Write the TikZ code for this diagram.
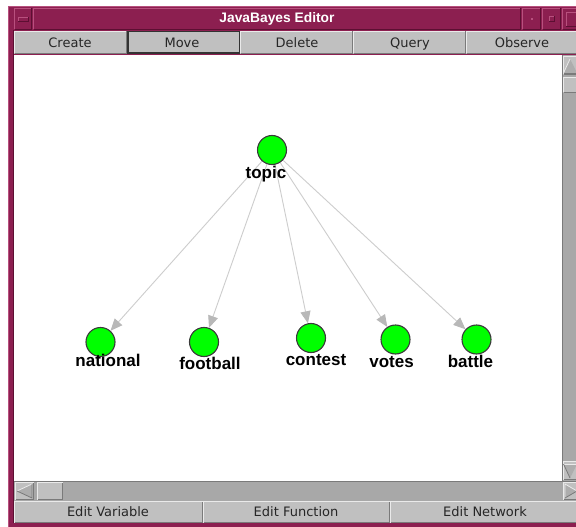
\documentclass[tikz,border=0pt]{standalone}
\usepackage{fontspec}
\setmainfont{Liberation Sans}
\newfontfamily\guifont{DejaVu Sans}
\usetikzlibrary{arrows.meta}
\pgfdeclarelayer{chrome}
\pgfdeclarelayer{edges}
\pgfsetlayers{chrome,edges,main}
\definecolor{framec}{HTML}{8C1F50}
\definecolor{framedark}{HTML}{5C0F32}
\definecolor{framelight}{HTML}{B8507E}
\definecolor{btngray}{HTML}{C0C0C0}
\definecolor{btnlight}{HTML}{EAEAEA}
\definecolor{btndark}{HTML}{7A7A7A}
\definecolor{trough}{HTML}{A8A8A8}
\definecolor{edgegray}{HTML}{CDCDCD}
\definecolor{tipgray}{HTML}{B8B8B8}
\definecolor{nodegreen}{HTML}{00FF00}
\definecolor{nodeedge}{HTML}{3A3A3A}
\newcommand{\bevbtn}[5][btngray]{%
  \fill[#1] (#2,#3) rectangle (#4,#5);
  \draw[btnlight, line width=1pt] (#2+.5,#5-.5) -- (#2+.5,#3+.5) -- (#4-.5,#3+.5);
  \draw[btndark, line width=1pt] (#2+.5,#5-.5) -- (#4-.5,#5-.5) -- (#4-.5,#3+.5);
}
\newcommand{\bevframe}[4]{%
  \fill[framec] (#1,#2) rectangle (#3,#4);
  \draw[framelight, line width=1pt] (#1+.5,#4-.5) -- (#1+.5,#2+.5) -- (#3-.5,#2+.5);
  \draw[framedark, line width=1pt] (#1+.5,#4-.5) -- (#3-.5,#4-.5) -- (#3-.5,#2+.5);
}
\tikzset{
  gnode/.style={circle, fill=nodegreen, draw=nodeedge, line width=1.1pt, minimum size=29pt, inner sep=0pt},
  glabel/.style={font=\fontsize{17}{17}\selectfont\bfseries, inner sep=0pt, anchor=base, text=black},
  edge/.style={draw=edgegray, line width=0.9pt, -{Triangle[length=12pt,width=10pt,color=tipgray,fill=tipgray]}},
  btntext/.style={font=\guifont\fontsize{13}{13}\selectfont, text=black!85, inner sep=0pt, anchor=base},
  titletext/.style={font=\fontsize{13.8}{14}\selectfont\bfseries, text=white, inner sep=0pt},
}
\begin{document}
\begin{tikzpicture}[x=1pt,y=-1pt]
\useasboundingbox (0,0) rectangle (576,527);
\begin{pgfonlayer}{chrome}
\fill[white] (0,0) rectangle (576,527);
% window frame
\fill[framec] (8,6) rectangle (576,527);
\draw[framelight, line width=1pt] (8.5,527) -- (8.5,6.5) -- (576,6.5);
\draw[framedark, line width=1pt] (13.5,30) -- (13.5,523);
% title bar
\bevframe{14}{8}{32}{30}
\fill[framec] (18,17) rectangle (28,21);
\draw[framelight, line width=0.8pt] (18,21) -- (18,17) -- (28,17);
\draw[framedark, line width=0.8pt] (18,21) -- (28,21) -- (28,17);
\bevframe{33}{8}{521}{30}
\bevframe{522}{8}{541}{30}
\fill[framelight] (530.5,18) rectangle (532.5,20);
\bevframe{542}{8}{561}{30}
\draw[framelight, line width=0.8pt] (549,21) -- (549,16) -- (554,16);
\draw[framedark, line width=0.8pt] (549,21) -- (554,21) -- (554,16);
\bevframe{562}{8}{577}{30}
\draw[framelight, line width=0.8pt] (566,26) -- (566,12) -- (577,12);
\draw[framedark, line width=0.8pt] (566,26) -- (577,26);
% top buttons
\fill[btngray] (14,31) rectangle (577,54);
\bevbtn{14}{31}{127}{54}
\bevbtn{127}{31}{240}{54}
\draw[black!80, line width=1.5pt] (127.75,31.75) rectangle (239.25,53.25);
\bevbtn{240}{31}{353}{54}
\bevbtn{353}{31}{466}{54}
\bevbtn{466}{31}{577}{54}
% canvas
\fill[white] (14,55) rectangle (562,481);
% vertical scrollbar
\fill[trough] (562,55) rectangle (576,481);
\draw[btndark, line width=1pt] (562.5,55) -- (562.5,481);
\bevbtn{563}{56}{577}{75}
\fill[btngray!90!black] (570,59) -- (563.5,73) -- (577,73) -- cycle;
\draw[btnlight, line width=0.8pt] (570,59) -- (563.5,73);
\draw[btndark, line width=0.8pt] (563.5,73) -- (577,73);
\bevbtn{563}{77}{577}{93}
\bevbtn{563}{461}{577}{480}
\fill[btngray!90!black] (570,478) -- (563.5,464) -- (577,464) -- cycle;
\draw[btnlight, line width=0.8pt] (563.5,464) -- (577,464);
\draw[btndark, line width=0.8pt] (570,478) -- (563.5,464);
% horizontal scrollbar
\fill[trough] (14,481) rectangle (577,501);
\draw[btndark, line width=1pt] (14,481.5) -- (577,481.5);
\bevbtn{15}{482}{34}{500}
\fill[btngray!90!black] (17,491) -- (32,484) -- (32,498) -- cycle;
\draw[btnlight, line width=0.8pt] (17,491) -- (32,484);
\draw[btndark, line width=0.8pt] (17,491) -- (32,498) -- (32,484);
\bevbtn{37}{482}{63}{500}
\bevbtn{563}{482}{577}{500}
\fill[btngray!90!black] (577,491) -- (565,484) -- (565,498) -- cycle;
\draw[btnlight, line width=0.8pt] (565,498) -- (565,484) -- (577,491);
\draw[btndark, line width=0.8pt] (565,498) -- (577,491);
% bottom buttons
\fill[btngray] (14,501) rectangle (577,523);
\bevbtn{14}{501}{203}{523}
\bevbtn{203}{501}{390}{523}
\bevbtn{390}{501}{577}{523}
\end{pgfonlayer}
% texts of the window
\node[titletext] (title) at (277,19) {JavaBayes Editor};
\node[btntext] (bcreate) at (70,48) {Create};
\node[btntext] (bmove) at (182,48) {Move};
\node[btntext] (bdelete) at (297,48) {Delete};
\node[btntext] (bquery) at (410,48) {Query};
\node[btntext] (bobserve) at (522,48) {Observe};
\node[btntext] (bvar) at (108,516.5) {Edit Variable};
\node[btntext] (bfun) at (296,516.5) {Edit Function};
\node[btntext] (bnet) at (485,516.5) {Edit Network};
% network nodes
\node[gnode] (topic) at (272,150) {};
\node[gnode] (national) at (100.5,342) {};
\node[gnode] (football) at (204,342) {};
\node[gnode] (contest) at (311,338) {};
\node[gnode] (votes) at (395.5,339.5) {};
\node[gnode] (battle) at (476.5,339.5) {};
% edges
\begin{pgfonlayer}{edges}
\draw[edge] (topic) -- (national);
\draw[edge] (topic) -- (football);
\draw[edge] (topic) -- (contest);
\draw[edge] (topic) -- (votes);
\draw[edge] (topic) -- (battle);
\end{pgfonlayer}
% labels
\node[glabel] (topicL) at (266,178) {topic};
\node[glabel] (nationalL) at (108,366) {national};
\node[glabel] (footballL) at (210,369) {football};
\node[glabel] (contestL) at (316,365) {contest};
\node[glabel] (votesL) at (391.5,367) {votes};
\node[glabel] (battleL) at (470.5,367) {battle};
\end{tikzpicture}
\end{document}
